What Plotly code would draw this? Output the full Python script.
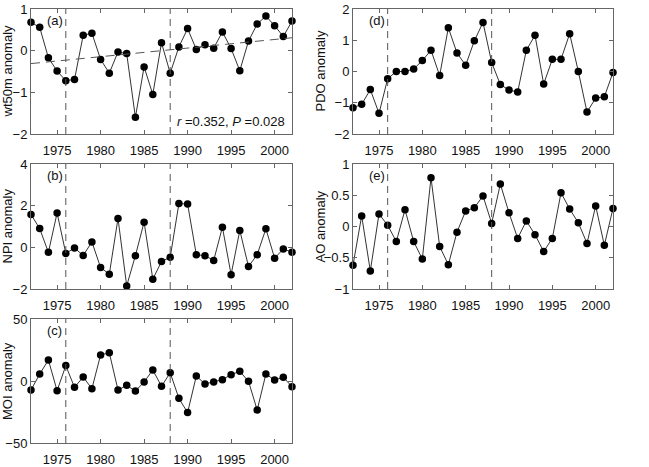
import plotly.graph_objects as go

years = list(range(1972, 2003))

wt50m = [0.68, 0.56, -0.17, -0.49, -0.72, -0.69, 0.37, 0.42, -0.21, -0.54,
         -0.03, -0.07, -1.60, -0.39, -1.05, 0.19, -0.54, 0.09, 0.53, 0.03,
         0.14, 0.06, 0.45, 0.05, -0.48, 0.23, 0.64, 0.83, 0.60, 0.34, 0.71]
npi = [1.58, 0.90, -0.24, 1.65, -0.29, -0.03, -0.39, 0.26, -0.97, -1.29,
       1.39, -1.85, -0.40, 1.21, -1.53, -0.68, -0.48, 2.10, 2.08, -0.35,
       -0.40, -0.63, 0.97, -1.31, 0.81, -0.92, -0.35, 0.89, -0.52, -0.08, -0.23]
moi = [-7.3, 5.6, 16.9, -7.8, 12.4, -5.1, 3.2, -6.2, 21.0, 22.8,
       -7.3, -3.5, -8.1, -0.8, 8.9, -4.3, 6.7, -14.0, -25.5, 4.0,
       -2.4, -0.8, 1.1, 5.1, 7.8, -0.3, -23.4, 5.6, 0.8, 3.0, -4.6]
pdo = [-1.16, -1.05, -0.58, -1.34, -0.23, 0.0, 0.0, 0.08, 0.35, 0.68,
       -0.13, 1.40, 0.59, 0.20, 0.98, 1.57, 0.29, -0.42, -0.59, -0.66,
       0.68, 1.16, -0.40, 0.39, 0.39, 1.21, 0.0, -1.30, -0.85, -0.81, -0.03]
ao = [-0.62, 0.17, -0.71, 0.20, 0.02, -0.24, 0.27, -0.24, -0.52, 0.78,
      -0.32, -0.61, -0.09, 0.25, 0.30, 0.49, 0.05, 0.68, 0.22, -0.19,
      0.09, -0.13, -0.40, -0.19, 0.54, 0.28, 0.06, -0.27, 0.33, -0.30, 0.29]

trend_years = [1972, 2002]
trend_wt50m = [-0.31, 0.31]
regime_shifts = [1976, 1988]

panels = [
    ("a", wt50m, "(a)", "wt50m anomaly", [-2, 1], [-2, -1, 0, 1]),
    ("b", npi, "(b)", "NPI anomaly", [-2, 4], [-2, 0, 2, 4]),
    ("c", moi, "(c)", "MOI anomaly", [-50, 50], [-50, 0, 50]),
    ("d", pdo, "(d)", "PDO anomaly", [-2, 2], [-2, -1, 0, 1, 2]),
    ("e", ao, "(e)", "AO anomaly", [-1, 1], [-1, -0.5, 0, 0.5, 1]),
]

W, H = 649, 467
colx = [(31, 292), (353, 613)]
rowy = [(9, 134), (164, 289), (319, 443)]
placement = [(0, 0), (0, 1), (0, 2), (1, 0), (1, 1)]
title_x = [7, 320]

fig = go.Figure()
font = dict(family="Liberation Sans, Arial, sans-serif", size=13, color="#111")
axcol = "#666"

for i, (key, vals, lab, title, yr, yt) in enumerate(panels):
    c, r = placement[i]
    n = "" if i == 0 else str(i + 1)
    xd = [colx[c][0] / W, colx[c][1] / W]
    yd = [1 - rowy[r][1] / H, 1 - rowy[r][0] / H]
    fig.update_layout(**{
        "xaxis" + n: dict(domain=xd, range=[1972, 2002], tickmode="array",
                          tickvals=[1975, 1980, 1985, 1990, 1995, 2000],
                          ticks="inside", ticklen=4, tickcolor=axcol,
                          showline=True, linecolor=axcol, linewidth=1,
                          mirror="ticks", showgrid=False, zeroline=False,
                          anchor="y" + n, tickfont=font, automargin=False,
                          ticklabelstandoff=4),
        "yaxis" + n: dict(domain=yd, range=yr, tickmode="array", tickvals=yt,
                          ticks="inside", ticklen=4, tickcolor=axcol,
                          showline=True, linecolor=axcol, linewidth=1,
                          mirror="ticks", showgrid=False, zeroline=False,
                          anchor="x" + n, tickfont=font, automargin=False),
    })
    xr = "x" + n
    yr_ = "y" + n
    for s in regime_shifts:
        fig.add_shape(type="line", xref=xr, yref=yr_ + " domain", x0=s, x1=s,
                      y0=0, y1=1, line=dict(color="#555", width=1, dash="7px,5px"))
    fig.add_trace(go.Scatter(x=years, y=vals, mode="lines+markers",
                             line=dict(color="#333", width=1),
                             marker=dict(color="black", size=7.5),
                             cliponaxis=False,
                             xaxis=xr, yaxis=yr_, showlegend=False))
    if key == "a":
        fig.add_trace(go.Scatter(x=trend_years, y=trend_wt50m, mode="lines",
                                 line=dict(color="#555", width=1, dash="9px,6px"),
                                 xaxis=xr, yaxis=yr_, showlegend=False))
        fig.add_annotation(xref=xr + " domain", yref=yr_ + " domain", x=0.98, y=0.02,
                           xanchor="right", yanchor="bottom", showarrow=False,
                           text="<i>r</i> =0.352, <i>P</i> =0.028", font=font)
    fig.add_annotation(xref=xr + " domain", yref=yr_ + " domain", x=0.055, y=0.985,
                       xanchor="left", yanchor="top", showarrow=False, text=lab, font=font)
    fig.add_annotation(xref="paper", yref=yr_ + " domain", x=title_x[c] / W, y=0.5,
                       xanchor="center", yanchor="middle", showarrow=False,
                       textangle=-90, text=title, font=font)

fig.update_layout(width=W, height=H, margin=dict(l=0, r=0, t=0, b=0),
                  paper_bgcolor="white", plot_bgcolor="white", font=font)
fig.write_html("out.html")
